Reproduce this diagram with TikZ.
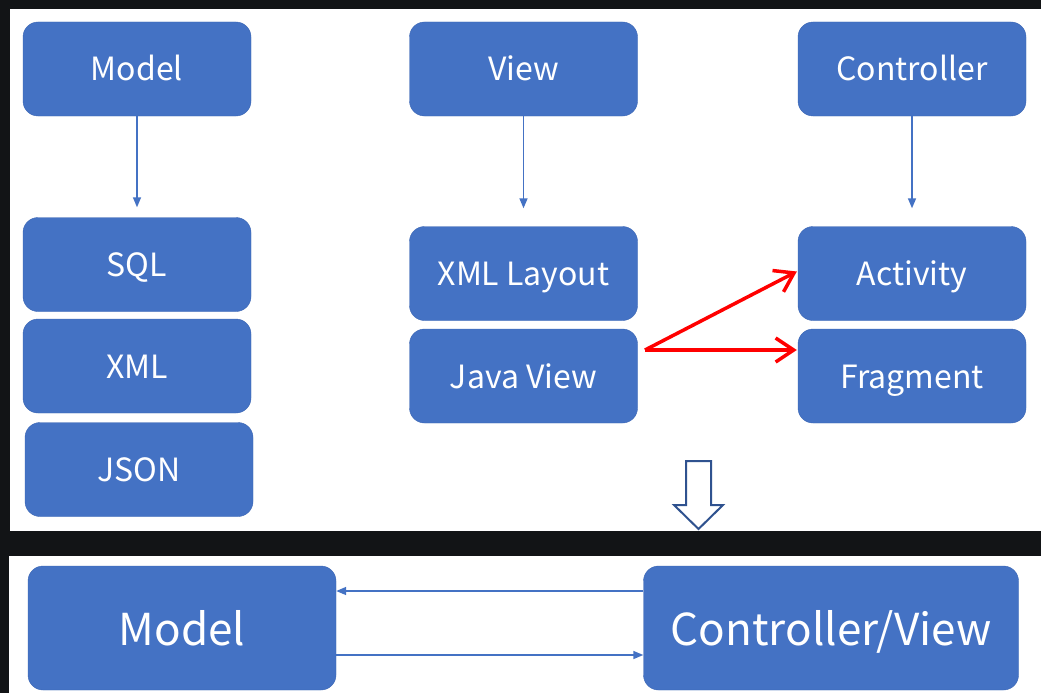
\documentclass[tikz,border=0pt]{standalone}
\usepackage{fontspec}
\setmainfont{Noto Sans CJK SC}
\usetikzlibrary{arrows.meta}

\definecolor{boxblue}{HTML}{4472C4}
\definecolor{boxline}{HTML}{3B66B4}
\definecolor{darkbg}{HTML}{121416}
\definecolor{hollowline}{HTML}{2F528F}

\begin{document}
\begin{tikzpicture}[x=1pt,y=-1pt,
    every node/.style={rectangle,rounded corners=15pt,draw=boxline,fill=boxblue,text=white,
      minimum width=228pt,minimum height=94pt,inner sep=0pt,text height=31pt,text depth=7pt,
      font=\fontsize{32}{36}\selectfont},
    big/.style={minimum height=124pt,text height=44pt,text depth=10pt,font=\fontsize{44}{48}\selectfont},
    link/.style={draw=boxblue,line width=1.5pt,-{Triangle[length=10pt,width=8pt]}},
    redlink/.style={draw=red,line width=3.5pt,-{Straight Barb[length=18pt,width=24pt]}}]

    % backdrop and the two white panels
    \fill[darkbg] (0, 0) rectangle (1041, 693);
    \fill[white] (10, 9) rectangle (1041, 531);
    \fill[white] (9, 556) rectangle (1041, 693);

    % model column
    \node (M) at (137, 69) {Model};
    \node (S) at (137, 264.5) {SQL};
    \node (X) at (137, 366) {XML};
    \node (J) at (139, 469.5) {JSON};

    % view column
    \node (V) at (523.5, 69) {View};
    \node (XL) at (523.5, 273.5) {XML Layout};
    \node (JV) at (523.5, 376) {Java View};

    % controller column
    \node (C) at (912, 69) {Controller};
    \node (A) at (912, 273.5) {Activity};
    \node (F) at (912, 376) {Fragment};

    \path (M) edge[link,shorten >=10pt] (S);
    \path (V) edge[link,shorten >=18pt] (XL);
    \path (C) edge[link,shorten >=18pt] (A);

    \coordinate (r) at (645, 350);
    \path (r) edge[redlink] ([shift={(-1pt,2pt)}]A.west);
    \path (r) edge[redlink] ([shift={(-1pt,26pt)}]F.west);

    % hollow arrow down to the merged version
    \draw[hollowline,line width=2pt,fill=white,line join=miter]
      (686, 461) -- (711, 461) -- (711, 505) -- (723, 505) -- (698.5, 529)
      -- (674, 505) -- (686, 505) -- cycle;

    % merged model / controller-view
    \node[big,minimum width=308pt] (M2) at (182, 628) {Model};
    \node[big,minimum width=375pt] (CV) at (831, 628) {Controller/View};

    \path ([yshift=37pt]CV.west) edge[link] ([yshift=37pt]M2.east);
    \path ([yshift=-27pt]M2.east) edge[link] ([yshift=-27pt]CV.west);
  \end{tikzpicture}
\end{document}
